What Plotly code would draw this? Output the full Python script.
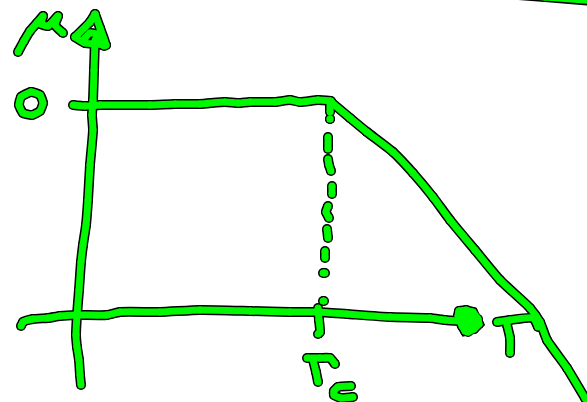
"""Hand-drawn mu(T) sketch: flat at 0 up to Tc, then falling."""

import plotly.graph_objects as go

GREEN = "#00f800"
OUTLINE = "#000000"
PLOT_W = 587
PLOT_H = 402

# stroke centrelines, as (x list, y list)
y_axis_x = [95, 94, 93, 92, 93, 90, 88, 86, 83, 81, 79, 77, 76, 77, 79, 80, 81]
y_axis_y = [40, 70, 100, 115, 130, 165, 200, 225, 245, 262, 290, 315, 335, 347, 360, 375, 385]

x_axis_x = [21, 23, 33, 48, 60, 76, 107, 120, 160, 200, 250, 290, 318, 347, 390, 430, 445, 460]
x_axis_y = [326, 322, 319, 318, 316, 315, 315, 312, 312, 310, 311, 312, 312, 314, 317, 318, 320, 321]

plateau_x = [73, 85, 100, 150, 175, 200, 225, 238, 250, 275, 290, 300, 318, 331]
plateau_y = [105, 106, 105, 105, 104, 104, 102, 103, 102, 102, 100, 102, 100, 101]

curve_x = [331, 350, 367, 393, 413, 433, 450, 475, 500, 530, 540, 547, 567, 585, 590]
curve_y = [102, 118, 132, 152, 173, 197, 220, 250, 280, 308, 322, 340, 368, 398, 405]

mu_x = [18, 24, 30, 37, 43, 41, 48, 58, 55, 63]
mu_y = [52, 41, 31, 23, 16, 24, 26, 16, 25, 33]

zero_x = [31, 40, 43, 40, 32, 23, 19, 21, 31]
zero_y = [92, 95, 103, 111, 115, 113, 105, 97, 92]

head_left_x = [75, 90, 95]
head_left_y = [37, 22, 14]
head_right_x = [95, 100, 106, 104]
head_right_y = [14, 28, 45, 46]
head_base_x = [75, 85, 96, 106]
head_base_y = [37, 43, 44, 45]
head_inner_x = [85, 90, 96, 98]
head_inner_y = [38, 33, 34, 41]

tick_x = [318, 319, 320, 318]
tick_y = [308, 320, 332, 334]
peak_stub_x = [330, 330]
peak_stub_y = [101, 112]

tc_bar_x = [307, 320, 330, 335]
tc_bar_y = [358, 358, 358, 364]
tc_stem_x = [313, 316, 318]
tc_stem_y = [360, 372, 382]
c_x = [351, 338, 334, 334, 341, 353]
c_y = [386, 387, 391, 395, 398, 397]

t_bar_x = [497, 510, 533, 538]
t_bar_y = [322, 320, 318, 327]
t_stem_x = [507, 510, 510]
t_stem_y = [325, 338, 353]

corner_x = [505, 545, 595]
corner_y = [-6, -3, 1]

dash_xs = [[330, 330], [328, 328], [328, 329, 331], [332, 332], [328, 326, 329], [327, 328],
           [325, 325], [323, 325], [323, 324]]
dash_ys = [[119, 119], [137, 149], [159, 165, 171], [186, 194], [206, 212, 218], [229, 238],
           [251, 258], [273, 273], [301, 301]]

# arrow head on the T axis is a solid blob
blob_x = [459, 466, 473, 478, 479, 474, 468, 465, 462, 458]
blob_y = [311, 310, 312, 319, 324, 329, 332, 331, 326, 316]

strokes = [
    (y_axis_x, y_axis_y), (x_axis_x, x_axis_y), (plateau_x, plateau_y), (curve_x, curve_y),
    (mu_x, mu_y), (zero_x, zero_y), (head_left_x, head_left_y), (head_right_x, head_right_y),
    (head_base_x, head_base_y), (head_inner_x, head_inner_y), (tick_x, tick_y),
    (peak_stub_x, peak_stub_y), (tc_bar_x, tc_bar_y), (tc_stem_x, tc_stem_y), (c_x, c_y),
    (t_bar_x, t_bar_y), (t_stem_x, t_stem_y), (corner_x, corner_y),
] + list(zip(dash_xs, dash_ys))


def add_layer(fig, color, width):
    # markers on every vertex give the round caps the pen strokes have
    for xs, ys in strokes:
        fig.add_trace(go.Scatter(
            x=xs, y=ys, mode="lines+markers",
            line=dict(color=color, width=width, shape="spline", smoothing=0.5),
            marker=dict(color=color, size=width),
            hoverinfo="skip",
        ))
    fig.add_trace(go.Scatter(
        x=blob_x + blob_x[:1], y=blob_y + blob_y[:1], mode="lines+markers",
        fill="toself", fillcolor=color,
        line=dict(color=color, width=width),
        marker=dict(color=color, size=width),
        hoverinfo="skip",
    ))


fig = go.Figure()
add_layer(fig, OUTLINE, 10)
add_layer(fig, GREEN, 7)

fig.update_layout(
    width=PLOT_W,
    height=PLOT_H,
    margin=dict(l=0, r=0, t=0, b=0),
    paper_bgcolor="white",
    plot_bgcolor="white",
    showlegend=False,
    xaxis=dict(range=[0, PLOT_W], visible=False),
    yaxis=dict(range=[PLOT_H, 0], visible=False),
)

# the page's default body margin would push the drawing off by 8 px
fig.write_html(
    "out.html",
    config={"displayModeBar": False},
    post_script="document.body.style.margin = '0';",
)
